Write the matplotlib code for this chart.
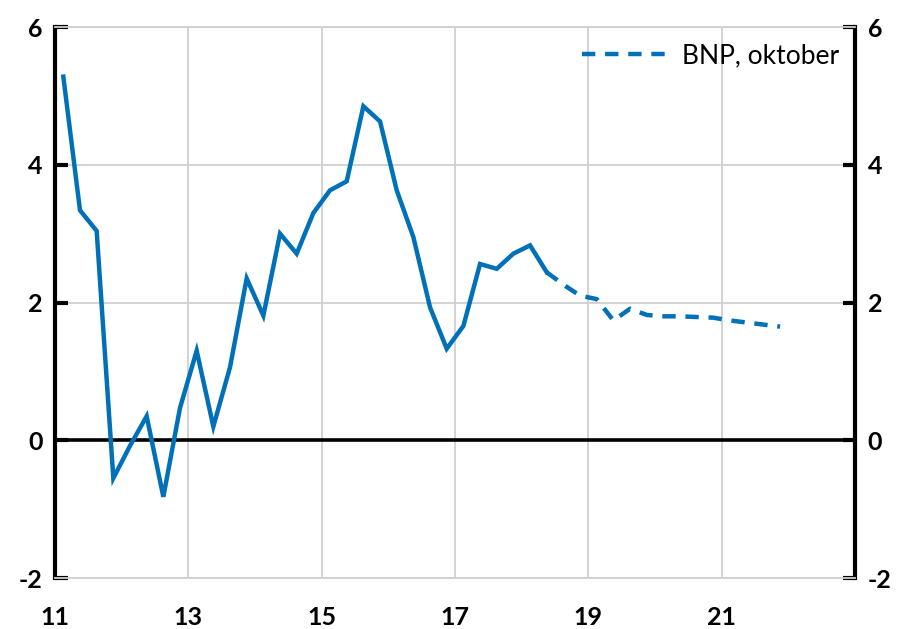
import matplotlib.pyplot as plt
import numpy as np

plt.rcParams['font.family'] = ['Lato', 'DejaVu Sans']
plt.rcParams['font.weight'] = 'bold'
plt.rcParams['axes.unicode_minus'] = False

# quarterly values, 2011Q1 onwards (x placed at mid-quarter)
actual = [5.28, 3.34, 3.04, -0.55, -0.08, 0.35, -0.82, 0.47, 1.30, 0.20,
          1.06, 2.35, 1.81, 3.00, 2.71, 3.30, 3.63, 3.76, 4.85, 4.63,
          3.63, 2.95, 1.93, 1.33, 1.66, 2.56, 2.49, 2.71, 2.83, 2.44]
forecast = [2.44, 2.26, 2.10, 2.05, 1.74, 1.91, 1.82, 1.80, 1.80, 1.79,
            1.78, 1.74, 1.71, 1.68, 1.65]
xticks = [11, 13, 15, 17, 19, 21]
yticks = [-2, 0, 2, 4, 6]

t_act = 11.125 + 0.25 * np.arange(len(actual))
t_fc = t_act[-1] + 0.25 * np.arange(len(forecast))

blue = '#0070b8'
fig = plt.figure(figsize=(8.97, 6.29), dpi=100)
ax = fig.add_axes([0.0613, 0.081, 0.892, 0.876])

ax.plot(t_act, actual, color=blue, lw=3.2, solid_joinstyle='miter', zorder=3)
ax.plot(t_fc, forecast, color=blue, lw=3.2, ls=(0, (3, 2.2)), zorder=4,
        label='BNP, oktober')
ax.axhline(0, color='black', lw=2.6, zorder=2)

ax.set_xlim(11, 23)
ax.set_ylim(-2, 6)
ax.set_xticks(xticks)
ax.set_yticks(yticks)
ax.grid(True, color='#d0d0d0', lw=1.3, zorder=0)

for s in ['top', 'bottom']:
    ax.spines[s].set_color('#d0d0d0')
    ax.spines[s].set_linewidth(1.3)
for s in ['left', 'right']:
    ax.spines[s].set_color('black')
    ax.spines[s].set_linewidth(3)

ax.tick_params(axis='x', length=0, pad=20, labelsize=18)
ax.tick_params(axis='y', direction='in', length=9, width=3, pad=9, labelsize=18,
               left=True, right=True, labelleft=True, labelright=True)

ax.legend(loc='upper right', frameon=False, handlelength=3.2,
          prop={'size': 19, 'weight': 'normal'},
          borderaxespad=0.2, handletextpad=0.6)

fig.savefig('out.png', dpi=100)
